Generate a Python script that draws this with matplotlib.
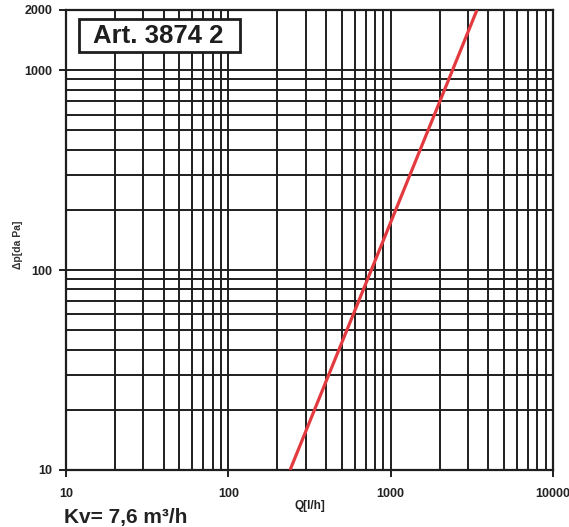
import numpy as np
import matplotlib.pyplot as plt
from matplotlib.patches import Rectangle
from matplotlib.ticker import LogLocator, NullFormatter

plt.rcParams['font.family'] = ['Liberation Sans', 'DejaVu Sans']

# flow in l/h and pressure drop in daPa
q_flow = [240, 3400]
dp = [10, 2000]

x_ticks = [10, 100, 1000, 10000]
x_labels = ['10', '100', '1000', '10000']
y_ticks = [10, 100, 1000, 2000]
y_labels = ['10', '100', '1000', '2000']

W, H = 569, 527
fig = plt.figure(figsize=(W / 100, H / 100), dpi=100)
ax = fig.add_axes([66 / W, 57 / H, 487 / W, 460 / H])

ax.set_xscale('log')
ax.set_yscale('log')
ax.set_xlim(10, 10000)
ax.set_ylim(10, 2000)

ax.plot(q_flow, dp, color='#e33a3f', lw=2.3, zorder=5, solid_capstyle='butt')

ax.set_xticks(x_ticks)
ax.set_xticklabels(x_labels)
ax.set_yticks(y_ticks)
ax.set_yticklabels(y_labels)
ax.xaxis.set_minor_locator(LogLocator(base=10, subs=np.arange(2, 10)))
ax.yaxis.set_minor_locator(LogLocator(base=10, subs=np.arange(2, 10)))
ax.xaxis.set_minor_formatter(NullFormatter())
ax.yaxis.set_minor_formatter(NullFormatter())

ax.grid(True, which='both', color='#1e1e1e', lw=1.4)
ax.tick_params(which='major', direction='out', length=5, width=1.4, color='#1e1e1e',
               labelsize=9)
ax.tick_params(axis='x', which='major', pad=8)
ax.tick_params(axis='y', which='major', pad=5)
ax.tick_params(which='minor', length=0)
for lbl in ax.get_xticklabels() + ax.get_yticklabels():
    lbl.set_fontweight('bold')
    lbl.set_color('#222222')
for sp in ax.spines.values():
    sp.set_linewidth(1.6)
    sp.set_color('#1e1e1e')

ax.set_xlabel('Q[l/h]', fontsize=8.5, fontweight='bold', color='#222222', labelpad=0)
fig.text(18 / W, 1 - 245 / H, '\u0394p[da Pa]', rotation=90, fontsize=7.5,
         fontweight='bold', color='#333333', va='center', ha='center')

# title box
fig.patches.append(Rectangle((79 / W, 1 - 52 / H), 161 / W, 33 / H, transform=fig.transFigure,
                             fc='white', ec='#1e1e1e', lw=2, zorder=10))
fig.text(158 / W, 1 - 36 / H, 'Art. 3874 2', fontsize=18.5, fontweight='bold',
         color='#1e1e1e', va='center', ha='center', zorder=11)

fig.text(64 / W, 1 - 517 / H, 'Kv= 7,6 m\u00b3/h', fontsize=15, fontweight='bold',
         color='#222222', va='center', ha='left')

fig.savefig('out.png', dpi=100)
